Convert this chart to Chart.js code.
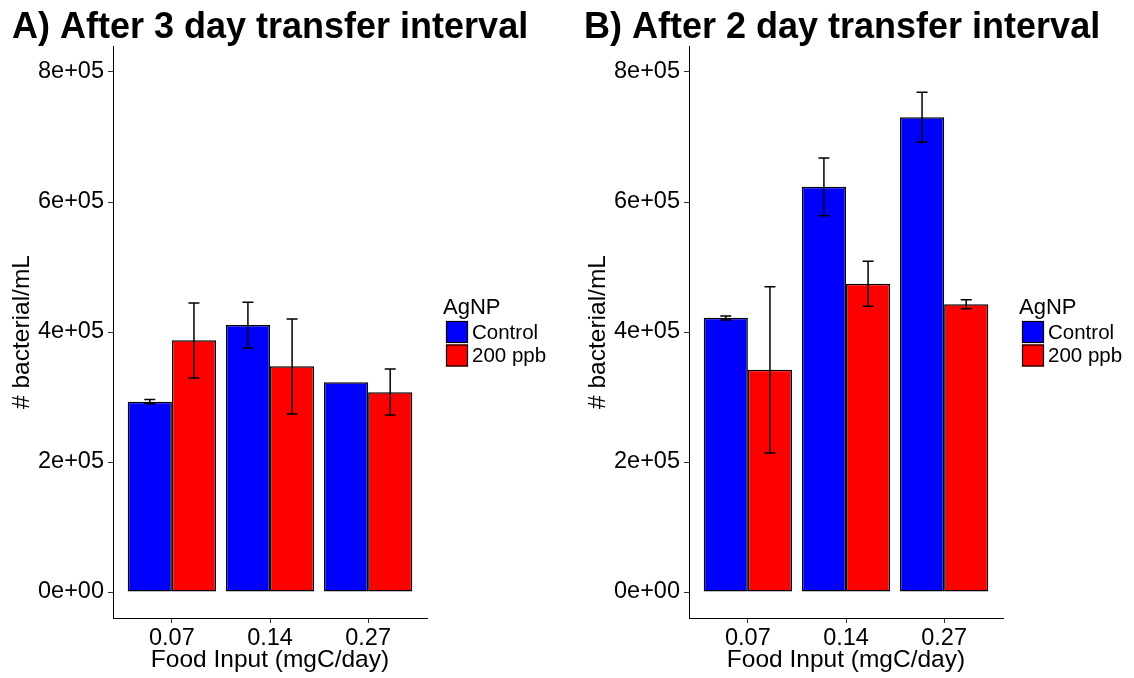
<!DOCTYPE html>
<html>
<head>
<meta charset="utf-8">
<script src="https://cdn.jsdelivr.net/npm/chart.js@4.4.1/dist/chart.umd.min.js"></script>
<style>
  html, body { margin: 0; padding: 0; background: #fff; }
  #wrap { position: relative; width: 1134px; height: 678px; overflow: hidden; }
  canvas { position: absolute; top: 0; }
</style>
</head>
<body>
<div id="wrap">
  <canvas id="chartA" width="576" height="678" style="left:0px"></canvas>
  <canvas id="chartB" width="558" height="678" style="left:576px"></canvas>
</div>
<script>
const FONT = "'Liberation Sans', Arial, Helvetica, sans-serif";

const categories = ['0.07', '0.14', '0.27'];
const seriesNames = ['Control', '200 ppb'];
const seriesColors = ['#0000ff', '#ff0000'];
const yTicks = [0, 200000, 400000, 600000, 800000];
const yTickLabels = ['0e+00', '2e+05', '4e+05', '6e+05', '8e+05'];

// panel A: 3 day interval
const controlA = [292800, 410800, 322600];
const controlA_lo = [289700, 375400, 322600];
const controlA_hi = [296000, 445700, 322600];
const ppbA = [387200, 347200, 307200];
const ppbA_lo = [329200, 273800, 272300];
const ppbA_hi = [444600, 420000, 343000];

// panel B: 2 day interval
const controlB = [422000, 623500, 730300];
const controlB_lo = [418500, 579000, 691800];
const controlB_hi = [424600, 667700, 768700];
const ppbB = [342000, 474300, 442600];
const ppbB_lo = [213800, 439500, 435900];
const ppbB_hi = [469700, 508800, 449700];

const errorBars = {
  id: 'errorBars',
  afterDatasetsDraw(chart, args, opts) {
    const ctx = chart.ctx;
    const y = chart.scales.y;
    ctx.save();
    ctx.strokeStyle = '#000';
    ctx.lineWidth = 1.5;
    opts.lows.forEach((lows, i) => {
      const meta = chart.getDatasetMeta(i);
      lows.forEach((lo, j) => {
        const hi = opts.highs[i][j];
        if (hi === lo) return;
        const x = meta.data[j].x;
        const y1 = y.getPixelForValue(lo);
        const y2 = y.getPixelForValue(hi);
        ctx.beginPath();
        ctx.moveTo(x, y1); ctx.lineTo(x, y2);
        ctx.moveTo(x - 5.5, y1); ctx.lineTo(x + 5.5, y1);
        ctx.moveTo(x - 5.5, y2); ctx.lineTo(x + 5.5, y2);
        ctx.stroke();
      });
    });
    ctx.restore();
  }
};

const decorations = {
  id: 'decorations',
  afterDraw(chart, args, opts) {
    const ctx = chart.ctx;
    const area = chart.chartArea;
    ctx.save();
    ctx.fillStyle = '#000';
    ctx.textAlign = 'left';
    ctx.textBaseline = 'alphabetic';
    ctx.font = 'bold 36px ' + FONT;
    ctx.fillText(opts.title, opts.titleX, 38);

    // legend
    const lx = area.right + 19;
    ctx.font = '22px ' + FONT;
    ctx.fillText('AgNP', lx - 3, 314);
    ctx.font = '20.5px ' + FONT;
    seriesNames.forEach((name, i) => {
      const ky = 321 + i * 23.5;
      ctx.fillStyle = seriesColors[i];
      ctx.fillRect(lx, ky, 22, 22);
      ctx.strokeStyle = '#000';
      ctx.lineWidth = 1.2;
      ctx.strokeRect(lx + 0.5, ky + 0.5, 21, 21);
      ctx.fillStyle = '#000';
      ctx.fillText(name, lx + 26, ky + 17.5);
    });
    ctx.restore();
  }
};

function makePanel(id, title, titleX, rightPad, control, controlLo, controlHi, ppb, ppbLo, ppbHi) {
  const vals = [control, ppb];
  new Chart(document.getElementById(id), {
    type: 'bar',
    data: {
      datasets: vals.map((v, i) => ({
        label: seriesNames[i],
        data: v.map((y, j) => ({ x: j + 1, y: y })),
        backgroundColor: seriesColors[i],
        borderColor: '#000',
        borderWidth: 1.5,
        borderSkipped: false,
        categoryPercentage: 0.9,
        barPercentage: 1
      }))
    },
    options: {
      responsive: false,
      animation: false,
      devicePixelRatio: 1,
      layout: { padding: { left: 0, top: 46, right: rightPad, bottom: 0 } },
      plugins: {
        legend: { display: false },
        tooltip: { enabled: false },
        errorBars: { lows: [controlLo, ppbLo], highs: [controlHi, ppbHi] },
        decorations: { title: title, titleX: titleX }
      },
      scales: {
        x: {
          type: 'linear',
          min: 0.4,
          max: 3.6,
          offset: false,
          afterBuildTicks: (s) => { s.ticks = categories.map((c, i) => ({ value: i + 1 })); },
          afterFit: (s) => { s.height = 60; },
          grid: { offset: false, drawOnChartArea: false, drawTicks: true, tickLength: 5, color: '#333' },
          border: { display: true, color: '#000', width: 1 },
          ticks: {
            color: '#000',
            padding: 1,
            maxRotation: 0,
            font: { family: FONT, size: 23.5 },
            callback: (v) => categories[v - 1]
          },
          title: {
            display: true,
            text: 'Food Input (mgC/day)',
            color: '#000',
            font: { family: FONT, size: 24.5 },
            padding: { top: 0, bottom: 3 }
          }
        },
        y: {
          min: -40000,
          max: 840000,
          afterBuildTicks: (s) => { s.ticks = yTicks.map(v => ({ value: v })); },
          afterFit: (s) => { s.width = 113; },
          grid: { drawOnChartArea: false, drawTicks: true, tickLength: 5, color: '#333' },
          border: { display: true, color: '#000', width: 1 },
          ticks: {
            color: '#000',
            padding: 4,
            font: { family: FONT, size: 23.5 },
            callback: (v) => yTickLabels[yTicks.indexOf(v)]
          },
          title: {
            display: true,
            text: '# bacterial/mL',
            color: '#000',
            font: { family: FONT, size: 24.5 },
            padding: { top: 8, bottom: 0 }
          }
        }
      }
    },
    plugins: [errorBars, decorations]
  });
}

makePanel('chartA', 'A) After 3 day transfer interval', 12, 149,
  controlA, controlA_lo, controlA_hi, ppbA, ppbA_lo, ppbA_hi);
makePanel('chartB', 'B) After 2 day transfer interval', 8, 131,
  controlB, controlB_lo, controlB_hi, ppbB, ppbB_lo, ppbB_hi);
</script>
</body>
</html>
